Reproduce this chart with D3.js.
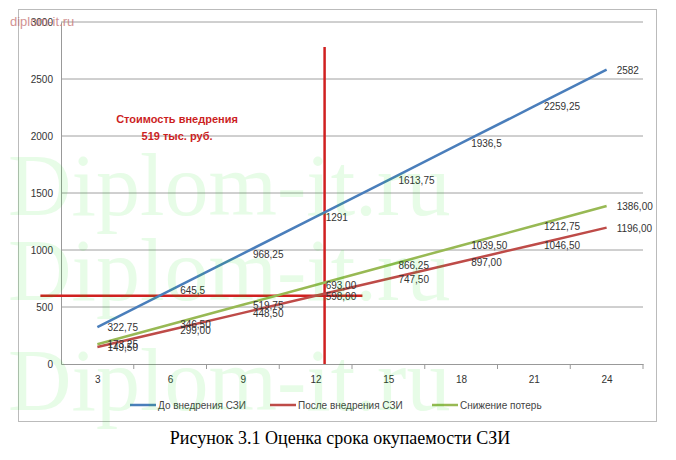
<!DOCTYPE html>
<html><head><meta charset="utf-8">
<script src="https://cdn.jsdelivr.net/npm/d3@7"></script>
<style>body{margin:0;background:#fff}</style>
</head><body>
<svg id="chart" width="676" height="460"></svg>
<script>
const MONTHS = [3, 6, 9, 12, 15, 18, 21, 24];
const BEFORE = [322.75, 645.5, 968.25, 1291, 1613.75, 1936.5, 2259.25, 2582];
const AFTER = [149.50, 299.00, 448.50, 598.00, 747.50, 897.00, 1046.50, 1196.00];
const SAVED = [173.25, 346.50, 519.75, 693.00, 866.25, 1039.50, 1212.75, 1386.00];
const BEFORE_LABELS = ["322,75","645,5","968,25","1291","1613,75","1936,5","2259,25","2582"];
const AFTER_LABELS = ["149,50","299,00","448,50","598,00","747,50","897,00","1046,50","1196,00"];
const SAVED_LABELS = ["173,25","346,50","519,75","693,00","866,25","1039,50","1212,75","1386,00"];
const Y_TICKS = [0, 500, 1000, 1500, 2000, 2500, 3000];
const PAYBACK_X = 12.37, PAYBACK_Y = 598;

const svg = d3.select("#chart");
const X = d3.scaleLinear().domain([1.5, 25.5]).range([61, 643]);
const Y = d3.scaleLinear().domain([0, 3000]).range([364, 22]);

// frame
svg.append("rect").attr("x", 18.5).attr("y", 9.5).attr("width", 638).attr("height", 412)
  .attr("fill", "none").attr("stroke", "#bbb");

// grid
svg.selectAll(".grid").data(Y_TICKS.slice(1)).enter().append("line")
  .attr("x1", 61).attr("x2", 643).attr("y1", d => Y(d)).attr("y2", d => Y(d))
  .attr("stroke", "#888").attr("stroke-width", 0.8);

// axes
const yAx = svg.append("g").attr("transform", "translate(61,0)")
  .call(d3.axisLeft(Y).tickValues(Y_TICKS).tickFormat(d3.format("d")).tickSize(0).tickPadding(8));
yAx.select(".domain").attr("stroke", "#999");
const xAx = svg.append("g").attr("transform", "translate(0,364)")
  .call(d3.axisBottom(X).tickValues(MONTHS).tickSize(0).tickPadding(12));
xAx.select(".domain").attr("stroke", "#999");
svg.selectAll(".xt").data(MONTHS.map(m => m + 1.5)).enter().append("line")
  .attr("x1", d => X(d)).attr("x2", d => X(d)).attr("y1", 364).attr("y2", 369).attr("stroke", "#999");
svg.selectAll(".tick text").attr("font-family", "Liberation Sans, sans-serif")
  .attr("font-size", 10).attr("fill", "#333");

// annotation lines
svg.append("line").attr("x1", X(0.65)).attr("x2", X(13.93)).attr("y1", Y(PAYBACK_Y)).attr("y2", Y(PAYBACK_Y))
  .attr("stroke", "#d02020").attr("stroke-width", 2.5);
svg.append("line").attr("x1", X(PAYBACK_X)).attr("x2", X(PAYBACK_X)).attr("y1", Y(2780)).attr("y2", Y(0))
  .attr("stroke", "#d02020").attr("stroke-width", 2.5);

const series = [
  {vals: BEFORE, labels: BEFORE_LABELS, color: "#4a7ebb", name: "До внедрения СЗИ"},
  {vals: AFTER, labels: AFTER_LABELS, color: "#be4b48", name: "После внедрения СЗИ"},
  {vals: SAVED, labels: SAVED_LABELS, color: "#98b954", name: "Снижение потерь"}
];
const line = d3.line().x((d, i) => X(MONTHS[i])).y(d => Y(d));
series.forEach(s => {
  svg.append("path").attr("d", line(s.vals)).attr("fill", "none")
    .attr("stroke", s.color).attr("stroke-width", 2.5);
});
series.forEach(s => {
  svg.selectAll(null).data(s.vals).enter().append("text")
    .attr("x", (d, i) => X(MONTHS[i]) + 10).attr("y", d => Y(d) + 4)
    .attr("font-family", "Liberation Sans, sans-serif").attr("font-size", 10).attr("fill", "#333")
    .text((d, i) => s.labels[i]);
});

// legend
const LX = [130, 270, 432];
series.forEach((s, i) => {
  svg.append("line").attr("x1", LX[i]).attr("x2", LX[i] + 26).attr("y1", 405).attr("y2", 405)
    .attr("stroke", s.color).attr("stroke-width", 2.5);
  svg.append("text").attr("x", LX[i] + 28).attr("y", 409)
    .attr("font-family", "Liberation Sans, sans-serif").attr("font-size", 10).attr("fill", "#444").text(s.name);
});

// annotation text
svg.append("text").attr("x", 177).attr("y", 123).attr("text-anchor", "middle")
  .attr("font-family", "Liberation Sans, sans-serif").attr("font-size", 11).attr("font-weight", "bold")
  .attr("fill", "#cc1f1f").text("Стоимость внедрения");
svg.append("text").attr("x", 177).attr("y", 140).attr("text-anchor", "middle")
  .attr("font-family", "Liberation Sans, sans-serif").attr("font-size", 11).attr("font-weight", "bold")
  .attr("fill", "#cc1f1f").text("519 тыс. руб.");

// caption
svg.append("text").attr("x", 340).attr("y", 444).attr("text-anchor", "middle")
  .attr("font-family", "Liberation Serif, serif").attr("font-size", 18).attr("fill", "#000")
  .text("Рисунок 3.1 Оценка срока окупаемости СЗИ");

// watermarks
[215, 300, 410].forEach(y => {
  svg.append("text").attr("x", 8).attr("y", y).attr("font-family", "Liberation Serif, serif")
    .attr("font-size", 88).attr("fill", "#00e000").attr("opacity", 0.09).text("Diplom-it.ru");
});
svg.append("text").attr("x", 10).attr("y", 26).attr("font-family", "Liberation Sans, sans-serif")
  .attr("font-size", 13).attr("fill", "#c87878").attr("opacity", 0.8).text("diplom-it.ru");
</script>
</body></html>
